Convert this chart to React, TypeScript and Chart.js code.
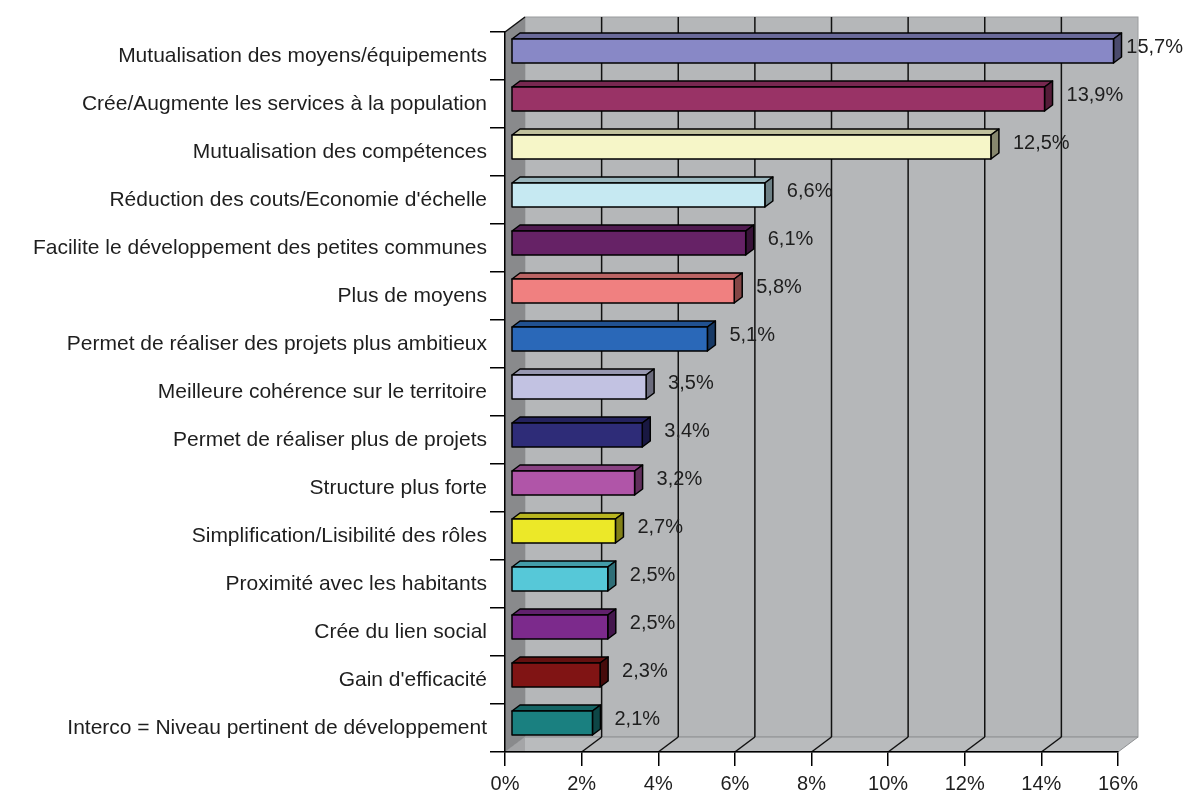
import React, { useEffect, useRef } from "react";
import { Chart, registerables } from "chart.js";

Chart.register(...registerables);

const categories = [
  "Mutualisation des moyens/équipements",
  "Crée/Augmente les services à la population",
  "Mutualisation des compétences",
  "Réduction des couts/Economie d'échelle",
  "Facilite le développement des petites communes",
  "Plus de moyens",
  "Permet de réaliser des projets plus ambitieux",
  "Meilleure cohérence sur le territoire",
  "Permet de réaliser plus de projets",
  "Structure plus forte",
  "Simplification/Lisibilité des rôles",
  "Proximité avec les habitants",
  "Crée du lien social",
  "Gain d'efficacité",
  "Interco = Niveau pertinent de développement",
];

const values = [15.7, 13.9, 12.5, 6.6, 6.1, 5.8, 5.1, 3.5, 3.4, 3.2, 2.7, 2.5, 2.5, 2.3, 2.1];

const barColors = [
  "#8888c6",
  "#993366",
  "#f6f6c8",
  "#c6e9f2",
  "#662266",
  "#f08080",
  "#2a68b8",
  "#c2c2e2",
  "#2e2c78",
  "#b055a8",
  "#ece828",
  "#56c8d8",
  "#7c2a8c",
  "#801414",
  "#1a8080",
];

const xMin = 0;
const xMax = 16;
const xStep = 2;

const FONT = '"Liberation Sans", Arial, sans-serif';
const TEXT = "#1e1e1e";

function shade(hex: string, f: number): string {
  const n = parseInt(hex.slice(1), 16);
  const r = Math.round(((n >> 16) & 255) * f);
  const g = Math.round(((n >> 8) & 255) * f);
  const b = Math.round((n & 255) * f);
  return `rgb(${r},${g},${b})`;
}

const WDX = 20;
const WDY = -15;

const wallPlugin = {
  id: "walls3d",
  beforeDraw(chart: any) {
    const { ctx, chartArea: a, scales } = chart;
    const x = scales.x;
    ctx.save();
    // back wall
    ctx.fillStyle = "#b5b7b9";
    ctx.fillRect(a.left + WDX, a.top + WDY, a.right - a.left, a.bottom - a.top);
    ctx.strokeStyle = "#9a9c9e";
    ctx.lineWidth = 1;
    ctx.strokeRect(a.left + WDX, a.top + WDY, a.right - a.left, a.bottom - a.top);
    // floor
    ctx.fillStyle = "#b9bbbd";
    ctx.beginPath();
    ctx.moveTo(a.left, a.bottom);
    ctx.lineTo(a.left + WDX, a.bottom + WDY);
    ctx.lineTo(a.right + WDX, a.bottom + WDY);
    ctx.lineTo(a.right, a.bottom);
    ctx.closePath();
    ctx.fill();
    ctx.strokeStyle = "#8e9092";
    ctx.stroke();
    // left wall
    ctx.fillStyle = "#898a8c";
    ctx.beginPath();
    ctx.moveTo(a.left, a.top);
    ctx.lineTo(a.left + WDX, a.top + WDY);
    ctx.lineTo(a.left + WDX, a.bottom + WDY);
    ctx.lineTo(a.left, a.bottom);
    ctx.closePath();
    ctx.fill();
    // lighter floor corner triangle on left wall
    ctx.fillStyle = "#a4a5a7";
    ctx.beginPath();
    ctx.moveTo(a.left, a.bottom);
    ctx.lineTo(a.left + WDX, a.bottom + WDY);
    ctx.lineTo(a.left + WDX, a.bottom);
    ctx.closePath();
    ctx.fill();
    // grid lines on back wall and floor
    ctx.strokeStyle = "#111";
    ctx.lineWidth = 1.5;
    for (const t of x.ticks) {
      const px = x.getPixelForValue(t.value);
      if (t.value > xMin && t.value < xMax) {
        ctx.beginPath();
        ctx.moveTo(px + WDX, a.top + WDY);
        ctx.lineTo(px + WDX, a.bottom + WDY);
        ctx.stroke();
      }
      if (t.value > xMin && t.value < xMax) {
        ctx.beginPath();
        ctx.moveTo(px, a.bottom);
        ctx.lineTo(px + WDX, a.bottom + WDY);
        ctx.stroke();
      }
    }
    // top-left diagonal edge
    ctx.beginPath();
    ctx.moveTo(a.left, a.top);
    ctx.lineTo(a.left + WDX, a.top + WDY);
    ctx.stroke();
    ctx.restore();
  },
  afterDatasetsDraw(chart: any) {
    const { ctx, scales } = chart;
    const x = scales.x;
    const y = scales.y;
    const BDX = 7, BDY = -5, DDX = 8, DDY = -6, HALF = 12;
    ctx.save();
    ctx.lineWidth = 1.5;
    ctx.lineJoin = "round";
    ctx.strokeStyle = "#000";
    values.forEach((v, i) => {
      const yc = y.getPixelForValue(i);
      const x0 = x.getPixelForValue(0) + BDX;
      const x1 = x.getPixelForValue(v) + BDX;
      const top = yc + BDY - HALF;
      const bot = yc + BDY + HALF;
      const c = barColors[i];
      // top face
      ctx.fillStyle = shade(c, 0.78);
      ctx.beginPath();
      ctx.moveTo(x0, top);
      ctx.lineTo(x0 + DDX, top + DDY);
      ctx.lineTo(x1 + DDX, top + DDY);
      ctx.lineTo(x1, top);
      ctx.closePath();
      ctx.fill();
      ctx.stroke();
      // side face
      ctx.fillStyle = shade(c, 0.55);
      ctx.beginPath();
      ctx.moveTo(x1, top);
      ctx.lineTo(x1 + DDX, top + DDY);
      ctx.lineTo(x1 + DDX, bot + DDY);
      ctx.lineTo(x1, bot);
      ctx.closePath();
      ctx.fill();
      ctx.stroke();
      // front face
      ctx.fillStyle = c;
      ctx.fillRect(x0, top, x1 - x0, bot - top);
      ctx.strokeRect(x0, top, x1 - x0, bot - top);
    });
    // value labels
    ctx.font = `20px ${FONT}`;
    ctx.fillStyle = TEXT;
    ctx.textAlign = "left";
    ctx.textBaseline = "middle";
    values.forEach((v, i) => {
      const yc = y.getPixelForValue(i);
      const x1 = x.getPixelForValue(v) + BDX;
      const label = v.toFixed(1).replace(".", ",") + "%";
      const w = ctx.measureText(label).width;
      const lx = Math.min(x1 + 22, chart.width - 5 - w);
      ctx.fillText(label, lx, yc - 9);
    });
    ctx.restore();
  },
};

export default function App() {
  const ref = useRef<HTMLCanvasElement | null>(null);
  useEffect(() => {
    document.body.style.margin = "0";
    const canvas = ref.current!;
    const chart = new Chart(canvas, {
      type: "bar",
      data: {
        labels: categories,
        datasets: [
          {
            data: values,
            backgroundColor: "rgba(0,0,0,0)",
            borderWidth: 0,
          },
        ],
      },
      options: {
        indexAxis: "y",
        responsive: false,
        animation: false,
        devicePixelRatio: 1,
        layout: { padding: { top: 32, right: 70, left: 0, bottom: 0 } },
        plugins: {
          legend: { display: false },
          tooltip: { enabled: false },
        },
        scales: {
          x: {
            min: xMin,
            max: xMax,
            ticks: {
              stepSize: xStep,
              callback: (v: any) => `${v}%`,
              font: { size: 20, family: FONT },
              color: TEXT,
              padding: 6,
              maxRotation: 0,
            },
            grid: {
              drawOnChartArea: false,
              drawTicks: true,
              tickLength: 14,
              color: "#000",
              lineWidth: 1.5,
            },
            border: { display: true, color: "#000", width: 1.5 },
            afterFit: (s: any) => {
              s.height = 43;
            },
          },
          y: {
            ticks: {
              font: { size: 21, family: FONT },
              color: TEXT,
              padding: 3,
              autoSkip: false,
            },
            grid: {
              drawOnChartArea: false,
              drawTicks: true,
              tickLength: 15,
              color: "#000",
              lineWidth: 1.5,
              offset: true,
            },
            border: { display: true, color: "#000", width: 1.5 },
            afterFit: (s: any) => {
              s.width = 505;
            },
          },
        },
      },
      plugins: [wallPlugin],
    });
    return () => chart.destroy();
  }, []);
  return <canvas ref={ref} width={1188} height={795} style={{ display: "block" }} />;
}
